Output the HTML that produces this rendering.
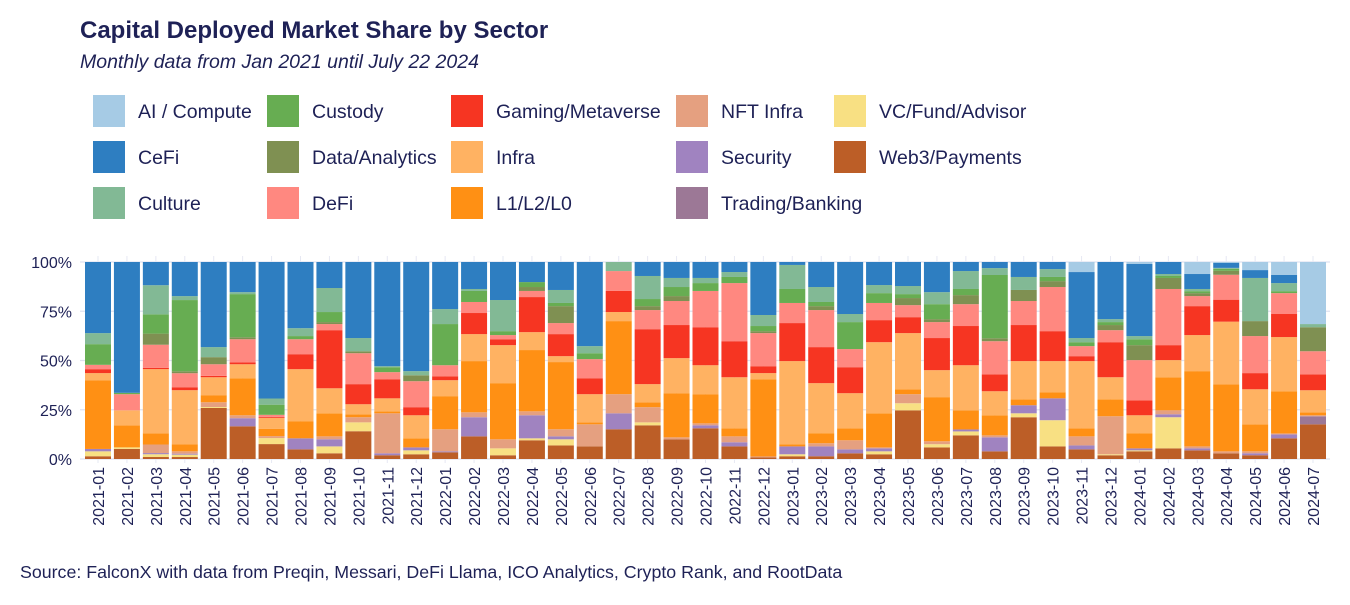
<!DOCTYPE html>
<html><head><meta charset="utf-8"><style>
body{margin:0;background:#fff;}
svg text{font-family:"Liberation Sans",Arial,sans-serif;fill:#1e2156;}
</style></head><body>
<svg id="chart" width="1350" height="600" xmlns="http://www.w3.org/2000/svg">
<rect width="1350" height="600" fill="#fff"/>
<text x="80" y="38" font-size="24" font-weight="bold">Capital Deployed Market Share by Sector</text>
<text x="80" y="68" font-size="19.5" font-style="italic">Monthly data from Jan 2021 until July 22 2024</text>
<g id="legend"></g>
<g id="grid"></g>
<g id="bars"></g>
<g id="yaxis"></g>
<g id="xaxis"></g>
<text x="20" y="578" font-size="17.8">Source: FalconX with data from Preqin, Messari, DeFi Llama, ICO Analytics, Crypto Rank, and RootData</text>
</svg>
<script>
const months = ["2021-01","2021-02","2021-03","2021-04","2021-05","2021-06","2021-07","2021-08","2021-09","2021-10","2021-11","2021-12","2022-01","2022-02","2022-03","2022-04","2022-05","2022-06","2022-07","2022-08","2022-09","2022-10","2022-11","2022-12","2023-01","2023-02","2023-03","2023-04","2023-05","2023-06","2023-07","2023-08","2023-09","2023-10","2023-11","2023-12","2024-01","2024-02","2024-03","2024-04","2024-05","2024-06","2024-07"];
const sectors = ["Web3/Payments","VC/Fund/Advisor","Trading/Banking","Security","NFT Infra","L1/L2/L0","Infra","Gaming/Metaverse","DeFi","Data/Analytics","Custody","Culture","CeFi","AI / Compute"];
const web3 = [1.4,5.1,1,1,25.9,16.6,7.5,4.9,2.9,14.1,1.9,2.4,3.4,11.5,1.9,9.5,6.9,6.4,15.1,17.1,10,15.6,6.4,0.8,1.4,1.4,2.9,2.4,24.7,5.9,12,3.9,21.2,6.4,4.9,1.9,3.9,5.4,4.4,2.9,1.9,10.5,17.6];
const vc = [2.5,0.8,1.4,1.2,0.5,0,3,0,3.5,4.5,0,2,0,0,3.5,1,3.1,0,0,1.5,0,0,0,0,1,0,0,1.5,3.6,1.6,2,0,2,13.3,0,0.5,0.5,15.8,0,0,0,0,0];
const trading = [0,0,0,0,0,0,0,0,0,0,0,0,0,0,0,0,0,0,0,0,0,0,0,0,0,0,0,0,0,0,0,0,0,0,0,0,0,0,0,0,0,0,4.1];
const security = [1.2,0,0.6,0.5,0,4.1,0,5.6,3.6,0,1,1.5,0.5,9.7,0,11.7,1.5,0,8.1,0,0,1.5,2.1,0,4,5,2,1.5,0,0,1,7.1,4.1,11.1,2,0,1,1.5,1,0,1,2,0];
const nft = [0,0,4.3,1.2,2.4,1.5,1,0,1.5,2.6,20.3,0,11.2,2.5,4.6,2,3.6,11.2,9.7,7.7,1,1,3,0.5,0,1.6,4.6,0.5,4.6,1.5,0,1,0,0,4.6,19.3,0,2,1,1,1,0.5,0.5];
const l1 = [34.9,11.2,5.6,3.6,3.6,18.8,3.6,8.7,11.7,1.5,1,4.6,16.8,26,28.5,31.1,34.1,1,37.1,2.5,22.4,14.8,4.1,39.2,1.1,5.1,6.1,17.3,2.5,22.4,9.7,10.2,3,3.1,4.1,8.6,7.7,16.8,38.2,34.1,13.7,21.4,1.5];
const infra = [3.6,7.6,32.4,27.4,9.1,7.1,5.6,26.4,12.7,5.1,6.6,11.7,8.1,13.7,19.3,9.1,3,14.3,4.6,9.2,17.8,14.7,25.9,3.1,42.2,25.4,17.8,36.1,28.5,13.7,22.9,12.2,19.4,15.8,34.1,11.2,9.1,8.7,18.3,32,17.8,27.5,11.2];
const gaming = [2,0,0.6,1.5,0.7,1,0.5,7.6,29.5,10.2,9.7,4.1,2,10.7,3,17.8,11.2,8.1,10.7,27.9,16.8,19.3,18.3,3.5,19.3,18.3,13.2,11.2,8.1,16.3,19.9,8.6,18.3,15.2,2.5,17.8,7.6,7.6,14.7,11.2,8.2,11.7,8.1];
const defi = [2.2,8.2,11.7,7.1,5.9,11.7,1,7.6,3.1,15.7,3.6,13.2,5.6,5.6,2.1,3.1,5.6,9.7,10.1,9.7,12.2,18.4,29.5,16.8,10.2,18.8,9.2,8.7,6.1,8.1,11.1,16.8,12.2,22.4,5.1,6.1,20.4,28.5,5.1,12.7,18.8,10.6,11.7];
const dataAn = [0,0,5.6,1,3.6,1,0,0,1,1,0,3,0,0,0,2,8.6,0,0,2,2.5,0,0,1,0,2,0,0,3.6,1.5,4.6,1.5,5.6,3,0,2.6,7.6,5.6,1.5,2,7.6,0,12.2];
const custody = [10.5,0.7,9.7,36.1,0,21.9,5.1,1.6,5.1,0,2.5,0,20.9,5.6,2,2.5,1.6,3,0,3.6,4.6,4,3.1,2.6,7.1,2.1,13.7,5,2,7.6,3.1,32.1,0,2.1,2,1.5,3,1,1,1,0,1,0];
const culture = [5.6,0,14.7,2,5.1,1,3.1,4,12.2,6.7,0.5,2.1,7.6,1,15.8,0,6.6,3.6,4.6,11.7,4.6,2.6,2.5,5.6,12.2,7.6,4.1,4.1,4.1,6.1,9.1,3.5,6.6,4,2.1,1.5,1.6,1,1.1,0.5,21.9,4.1,1.6];
const cefi = [36.1,66.4,11.7,17.3,43.2,15.3,68.6,33.6,13.2,38.6,52.9,55.4,23.9,13.7,19.3,10.2,14.2,42.7,0,7.1,8.1,8.1,5.1,26.9,1.5,12.7,26.4,11.7,12.2,15.3,4.6,3.1,7.6,3.6,33.5,29,36.6,6.1,7.6,2.5,4,4.1,0];
const ai = [0,0,0,0,0,0,0,0,0,0,0,0,0,0,0,0,0,0,0,0,0,0,0,0,0,0,0,0,0,0,0,0,0,0,5.1,0,1,0,6.1,0.5,4.1,6.6,31.5];
const yTicks = [0,25,50,75,100];
const yTickLabels = ["0%","25%","50%","75%","100%"];

const series = [web3,vc,trading,security,nft,l1,infra,gaming,defi,dataAn,custody,culture,cefi,ai];
const colors = ["#bc5e27","#f8e083","#9c7896","#a083c0","#e5a080","#ff9014","#ffb262","#f63522","#ff8880","#7f9052","#67ad52","#82b995","#2e7ec1","#a6cbe5"];
const NS="http://www.w3.org/2000/svg";
function mk(tag,attrs,parent){const e=document.createElementNS(NS,tag);for(const k in attrs)e.setAttribute(k,attrs[k]);parent.appendChild(e);return e;}
const plotTop=262, plotBot=459, x0=98, step=(1313-98)/42, bw=26;
function yScale(p){return plotBot-(p/100)*(plotBot-plotTop);}
function xScale(i){return x0+i*step;}

const grid=document.getElementById('grid');
const yax=document.getElementById('yaxis');
yTicks.forEach((t,i)=>{
  const l=mk('line',{x1:80,x2:1330,y1:yScale(t),y2:yScale(t),stroke:"#dfe2f0","stroke-width":1.2},grid);
  
  
  const tx=mk('text',{x:72,y:yScale(t)+6,"text-anchor":"end","font-size":16},yax);
  tx.textContent=yTickLabels[i];
  
  
});
months.forEach((m,i)=>{
  const l=mk('line',{x1:xScale(i),x2:xScale(i),y1:plotTop-6,y2:plotBot+4,stroke:"#e6e8f3","stroke-width":1},grid);
  
  
});
const bars=document.getElementById('bars');
const xax=document.getElementById('xaxis');
months.forEach((m,i)=>{
  let total=0; series.forEach(s=>total+=s[i]);
  let cum=0;
  series.forEach((s,k)=>{
    const v=s[i]; if(v<=0) return;
    const pTop=(cum+v)/total*100, pBot=cum/total*100;
    cum+=v;
    const r=mk('rect',{x:xScale(i)-bw/2,y:yScale(pTop),width:bw,height:yScale(pBot)-yScale(pTop),fill:colors[k]},bars);
    
    
  });
  const tx=mk('text',{transform:`translate(${xScale(i)+6},467) rotate(-90)`,"text-anchor":"end","font-size":16},xax);
  tx.textContent=m;
  
  
});
const legendOrder=[13,12,11,10,9,8,7,6,5,4,3,2,1,0];
const legCols=[93,267,451,676,834], legRows=[111,157,203];
const leg=document.getElementById('legend');
legendOrder.forEach((k,j)=>{
  const col=Math.floor(j/3), row=j%3;
  const g=mk('g',{},leg);
  
  
  mk('rect',{x:legCols[col],y:legRows[row]-16,width:32,height:32,fill:colors[k]},g);
  const t=mk('text',{x:legCols[col]+45,y:legRows[row]+7,"font-size":19.5},g);
  t.textContent=sectors[k];
});
</script>
</body></html>
